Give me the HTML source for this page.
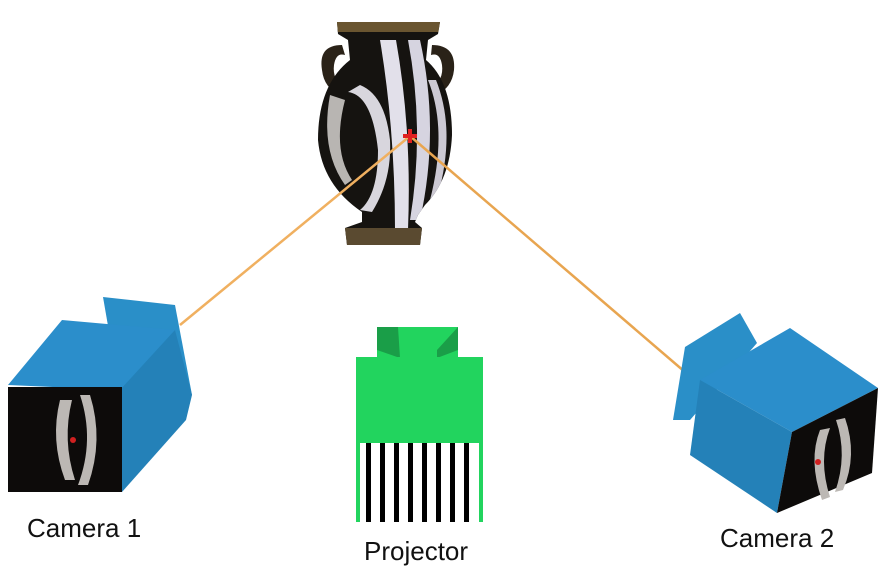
<!DOCTYPE html>
<html><head><meta charset="utf-8"><style>
html,body{margin:0;padding:0;background:#fff;}
svg{display:block}
text{font-family:"Liberation Sans",sans-serif;fill:#111;}
</style></head><body>
<svg width="890" height="572" viewBox="0 0 890 572" xmlns="http://www.w3.org/2000/svg">
<defs>
<clipPath id="vc"><path id="vp" d="M337 22 L440 22 L438 34 L428 40 L426 60 Q452 82 452 135 Q450 180 425 205 L418 215 L415 222 L422 228 L420 245 L347 245 L345 228 L362 222 L362 212 Q322 185 318 140 Q318 85 350 60 L348 40 L338 34 Z"/></clipPath>
</defs>
<!-- vase handles -->
<path d="M342 45 Q318 45 322 70 Q324 88 340 95 L345 88 Q332 80 334 65 Q336 52 345 55 Z" fill="#2a2218"/>
<path d="M432 45 Q456 45 454 70 Q452 88 436 95 L431 88 Q444 80 442 65 Q440 52 431 55 Z" fill="#2a2218"/>
<!-- vase -->
<use href="#vp" fill="#151310"/>
<g clip-path="url(#vc)">
<path d="M330 95 Q320 150 345 185 L352 180 Q332 150 345 100 Z" fill="#b8b5b2"/>
<path d="M348 92 Q372 95 378 150 Q378 195 360 210 L372 212 Q392 180 390 140 Q385 95 360 85 Z" fill="#d8d6dd"/>
<path d="M380 40 Q395 130 395 230 L408 230 Q412 130 396 40 Z" fill="#e2e0ea"/>
<path d="M408 40 Q425 130 410 220 L420 220 Q440 130 420 40 Z" fill="#d6d4e0"/>
<path d="M428 80 Q448 130 430 200 L438 195 Q456 130 436 80 Z" fill="#ccc9d3"/>
<rect x="330" y="22" width="120" height="10" fill="#6a5530"/>
<rect x="340" y="228" width="90" height="17" fill="#5a4a30"/>
</g>
<!-- lines -->
<line x1="410" y1="136" x2="180" y2="325" stroke="#f0b060" stroke-width="2.5"/>
<line x1="410" y1="136" x2="685" y2="372" stroke="#e8a550" stroke-width="2.5"/>
<path d="M403 136 h14 M410 129 v14" stroke="#e02020" stroke-width="4"/>
<!-- left camera -->
<polygon points="103,297 175,305 192,395 120,395" fill="#2a8fc8"/>
<polygon points="8,385 62,320 175,330 120,390" fill="#2b8ecb"/>
<polygon points="120,390 175,330 192,395 186,420 122,492" fill="#2481b8"/>
<rect x="8" y="387" width="114" height="105" fill="#0d0b0a"/>
<path d="M60 400 Q50 440 65 480 L75 480 Q62 440 72 400 Z M80 395 Q95 440 78 485 L88 485 Q104 440 90 395 Z" fill="#bcb8b4"/>
<circle cx="73" cy="440" r="3" fill="#d02020"/>
<!-- right camera -->
<polygon points="685,347 740,313 757,343 690,420 673,420" fill="#2a8fc8"/>
<polygon points="700,380 790,328 878,388 792,432" fill="#2b8ecb"/>
<polygon points="700,380 792,432 777,513 690,455" fill="#2481b8"/>
<polygon points="792,432 878,388 872,473 777,513" fill="#0d0b0a"/>
<path d="M820 430 Q808 460 822 500 L830 497 Q818 460 830 428 Z M836 420 Q848 455 835 492 L843 490 Q858 455 845 418 Z" fill="#bcb8b4"/>
<circle cx="818" cy="462" r="3" fill="#d02020"/>
<!-- projector -->
<rect x="377" y="327" width="81" height="31" fill="#22d45e"/>
<polygon points="377,327 398,327 400,358 377,350" fill="#1a9e48"/>
<polygon points="458,327 437,350 437,358 458,350" fill="#1a9e48"/>
<rect x="356" y="357" width="127" height="86" fill="#22d45e"/>
<rect x="356" y="443" width="127" height="79" fill="#fff"/>
<rect x="356" y="443" width="4" height="79" fill="#22d45e"/>
<rect x="479" y="443" width="4" height="79" fill="#22d45e"/>
<g fill="#000">
<rect x="366" y="443" width="5" height="79"/><rect x="380" y="443" width="5" height="79"/><rect x="394" y="443" width="5" height="79"/><rect x="408" y="443" width="5" height="79"/><rect x="422" y="443" width="5" height="79"/><rect x="436" y="443" width="5" height="79"/><rect x="450" y="443" width="5" height="79"/><rect x="464" y="443" width="5" height="79"/>
</g>
<!-- labels -->
<text x="27" y="537" font-size="26">Camera 1</text>
<text x="364" y="560" font-size="26">Projector</text>
<text x="720" y="547" font-size="26">Camera 2</text>
</svg>
</body></html>
